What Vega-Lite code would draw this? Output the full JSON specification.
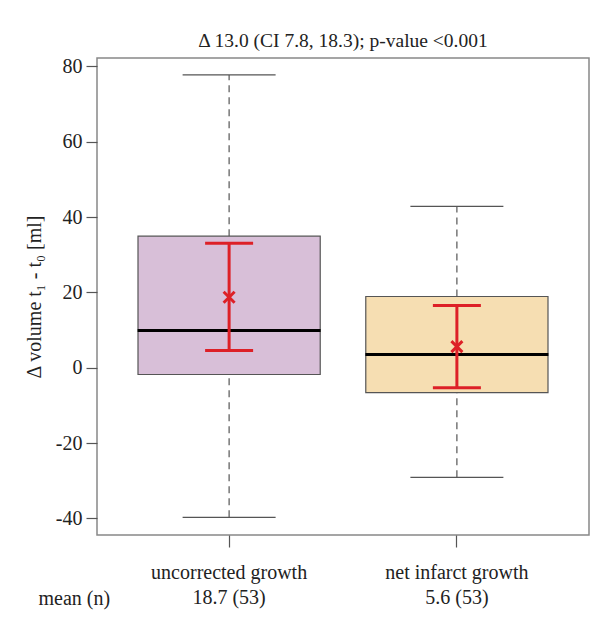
{
  "$schema": "https://vega.github.io/schema/vega-lite/v6.json",
  "width": 492,
  "height": 477,
  "autosize": {"type": "none"},
  "padding": {"left": 97, "top": 58, "right": 12, "bottom": 92},
  "background": "white",
  "title": {"text": "Δ 13.0 (CI 7.8, 18.3); p-value <0.001", "fontSize": 19.5, "fontWeight": "normal", "font": "Liberation Serif", "color": "#222", "offset": 5, "anchor": "middle"},
  "data": {"values": [
    {"group": "uncorrected growth|18.7 (53)", "min": -39.7, "q1": -1.8, "median": 9.9, "q3": 34.9, "max": 77.7, "mean": 18.7, "ci_lo": 4.6, "ci_hi": 33.0},
    {"group": "net infarct growth|5.6 (53)", "min": -29.1, "q1": -6.6, "median": 3.5, "q3": 18.9, "max": 42.8, "mean": 5.6, "ci_lo": -5.3, "ci_hi": 16.5}
  ]},
  "encoding": {
    "x": {"field": "group", "type": "nominal", "sort": null,
      "scale": {"paddingInner": 0.2, "paddingOuter": 0.18},
      "axis": {"title": "mean (n)", "titleX": -59, "titleY": 63, "titleAlign": "left", "titleBaseline": "middle", "titleFontWeight": "normal",
        "labelExpr": "split(datum.label, '|')", "labelAngle": 0, "labelLineHeight": 25, "labelPadding": 15, "labelBaseline": "top",
        "domain": false, "tickSize": 12, "tickColor": "#555", "tickWidth": 1.2}}
  },
  "layer": [
    {"mark": {"type": "rule", "color": "#555", "strokeDash": [7, 5], "strokeWidth": 1.2},
     "encoding": {"y": {"field": "q3", "type": "quantitative"}, "y2": {"field": "max"}}},
    {"mark": {"type": "rule", "color": "#555", "strokeDash": [7, 5], "strokeWidth": 1.2},
     "encoding": {"y": {"field": "min", "type": "quantitative"}, "y2": {"field": "q1"}}},
    {"mark": {"type": "tick", "color": "#555", "size": 93, "thickness": 1.3, "opacity": 1},
     "encoding": {"y": {"field": "max", "type": "quantitative"}}},
    {"mark": {"type": "tick", "color": "#555", "size": 93, "thickness": 1.3, "opacity": 1},
     "encoding": {"y": {"field": "min", "type": "quantitative"}}},
    {"mark": {"type": "bar", "stroke": "#555", "strokeWidth": 1.2},
     "encoding": {
       "y": {"field": "q1", "type": "quantitative",
         "scale": {"domain": [-44.4, 82.2], "nice": false, "zero": false},
         "axis": {"title": "Δ volume t₁ - t₀ [ml]", "values": [-40, -20, 0, 20, 40, 60, 80], "labelExpr": "toString(datum.value)", "grid": false, "domain": false,
           "tickSize": 11, "tickColor": "#555", "tickWidth": 1.2, "labelPadding": 4, "titlePadding": 11}},
       "y2": {"field": "q3"},
       "fill": {"field": "group", "type": "nominal", "sort": null, "scale": {"range": ["#d8bfd8", "#f6deb2"]}, "legend": null}
     }},
    {"mark": {"type": "tick", "color": "#000", "size": 183, "thickness": 3, "opacity": 1},
     "encoding": {"y": {"field": "median", "type": "quantitative"}}},
    {"mark": {"type": "rule", "color": "#dd2027", "strokeWidth": 3},
     "encoding": {"y": {"field": "ci_lo", "type": "quantitative"}, "y2": {"field": "ci_hi"}}},
    {"mark": {"type": "tick", "color": "#dd2027", "size": 48, "thickness": 3, "opacity": 1},
     "encoding": {"y": {"field": "ci_lo", "type": "quantitative"}}},
    {"mark": {"type": "tick", "color": "#dd2027", "size": 48, "thickness": 3, "opacity": 1},
     "encoding": {"y": {"field": "ci_hi", "type": "quantitative"}}},
    {"mark": {"type": "point", "shape": "M-1,-1L1,1M-1,1L1,-1", "stroke": "#dd2027", "strokeWidth": 3, "size": 120, "filled": false, "opacity": 1},
     "encoding": {"y": {"field": "mean", "type": "quantitative"}}}
  ],
  "config": {
    "font": "Liberation Serif",
    "view": {"stroke": "#888", "strokeWidth": 1.5},
    "axis": {"labelFont": "Liberation Serif", "titleFont": "Liberation Serif", "labelFontSize": 20, "titleFontSize": 20, "labelColor": "#222", "titleColor": "#222", "titleFontWeight": "normal"}
  }
}
